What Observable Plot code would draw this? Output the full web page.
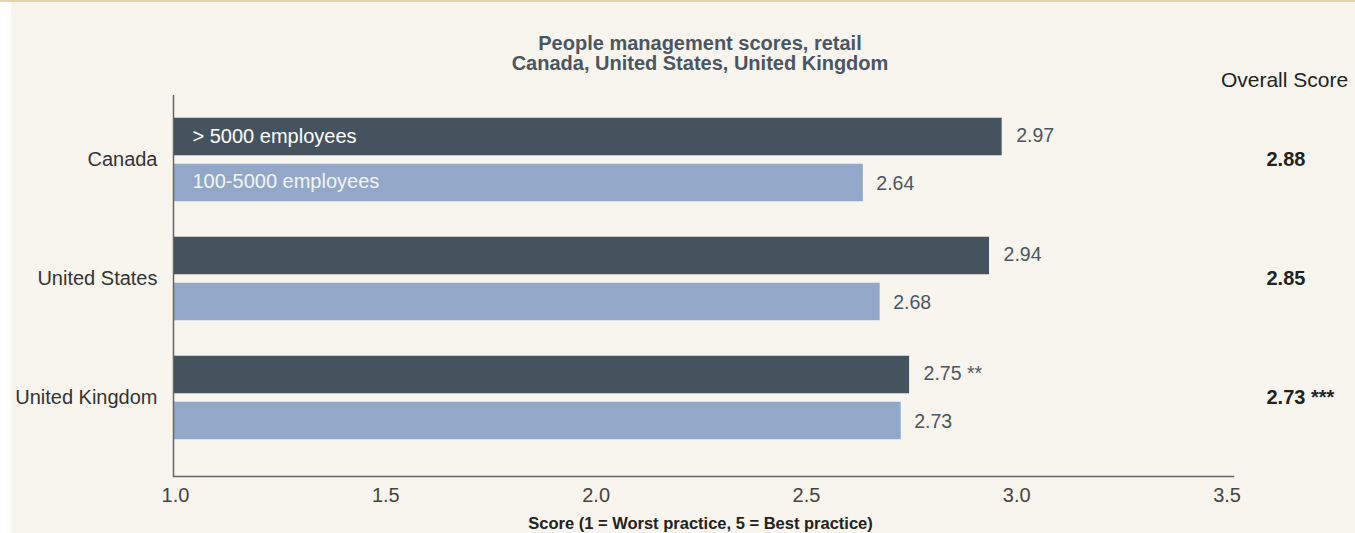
<!DOCTYPE html>
<html>
<head>
<meta charset="utf-8">
<script src="https://cdn.jsdelivr.net/npm/d3@7"></script>
<script src="https://cdn.jsdelivr.net/npm/@observablehq/plot@0.6"></script>
<style>
  html, body { margin: 0; padding: 0; background: #ffffff; }
  #panel { position: absolute; left: 11px; top: 0; width: 1344px; height: 533px; background: #f8f5ee; overflow: hidden; }
  #topline { position: absolute; left: 0; top: 0; width: 1355px; height: 2px; background: #e7d6a9; }
  #title { position: absolute; left: 0; top: 33px; width: 1378px; text-align: center;
           font-family: "Liberation Sans", Arial, sans-serif; font-weight: bold; font-size: 20px;
           line-height: 20px; color: #4a5662; }
  #chart { position: absolute; left: 0; top: 0; }
</style>
</head>
<body>
<div id="panel">
  <div id="chart"></div>
  <div id="title">People management scores, retail<br>Canada, United States, United Kingdom</div>
</div>
<div id="topline"></div>
<script>
// ---- data ----
const countries = ["Canada", "United States", "United Kingdom"];
const largeFirms = [2.97, 2.94, 2.75];          // > 5000 employees
const largeNotes = ["", "", " **"];
const midFirms = [2.64, 2.68, 2.73];            // 100-5000 employees
const midNotes = ["", "", ""];
const overallScores = [2.88, 2.85, 2.73];
const overallNotes = ["", "", " ***"];
const seriesNames = ["> 5000 employees", "100-5000 employees"];
const xTicks = [1.0, 1.5, 2.0, 2.5, 3.0, 3.5];
const baseline = 1.0;
const overallHeader = "Overall Score";
const xLabel = "Score (1 = Worst practice, 5 = Best practice)";

const darkColor = "#45535e";
const lightColor = "#93a8c9";
const valueColor = "#4b5661";
const font = "'Liberation Sans', Arial, sans-serif";

const chart = Plot.plot({
  width: 1344,
  height: 533,
  marginLeft: 162,
  marginRight: 122,
  marginTop: 95,
  marginBottom: 57,
  style: { background: "transparent", fontFamily: font, fontSize: "20px", color: "#333" },
  x: { domain: [1, 3.52] },
  y: { type: "band", domain: countries, paddingInner: 0, paddingOuter: 0.094, align: 0.222 },
  marks: [
    Plot.barX(countries, { y: d => d, x1: baseline, x2: (d, i) => largeFirms[i], fill: darkColor, insetTop: 17.75, insetBottom: 63.75 }),
    Plot.barX(countries, { y: d => d, x1: baseline, x2: (d, i) => midFirms[i], fill: lightColor, insetTop: 63.75, insetBottom: 17.75 }),
    Plot.ruleX([baseline], { stroke: "#666", strokeWidth: 1.5 }),
    Plot.frame({ anchor: "bottom", stroke: "#666", strokeWidth: 1.5 }),
    Plot.axisX(xTicks, { tickSize: 0, tickPadding: 11, dx: 2, tickFormat: d => d.toFixed(1), fontSize: 20, fill: "#444", label: null }),
    Plot.axisY({ tickSize: 0, tickPadding: 16, fontSize: 20, fill: "#333", label: null }),
    // value labels
    Plot.text(countries, { y: d => d, x: (d, i) => largeFirms[i], text: (d, i) => largeFirms[i].toFixed(2) + largeNotes[i],
      dx: 14, dy: -24, textAnchor: "start", fill: valueColor, fontSize: 19.5 }),
    Plot.text(countries, { y: d => d, x: (d, i) => midFirms[i], text: (d, i) => midFirms[i].toFixed(2) + midNotes[i],
      dx: 13, dy: 24, textAnchor: "start", fill: valueColor, fontSize: 19.5 }),
    // series labels inside Canada bars
    Plot.text([seriesNames[0]], { y: () => countries[0], x: baseline, text: d => d, dx: 19, dy: -23,
      textAnchor: "start", fill: "#ffffff", fontSize: 20 }),
    Plot.text([seriesNames[1]], { y: () => countries[0], x: baseline, text: d => d, dx: 19, dy: 22,
      textAnchor: "start", fill: "#f4f4f4", fontSize: 20 }),
    // overall scores
    Plot.text(countries, { y: d => d, frameAnchor: "right", text: (d, i) => overallScores[i].toFixed(2) + overallNotes[i],
      dx: 33, textAnchor: "start", fill: "#222", fontWeight: "bold", fontSize: 20 }),
    Plot.text([overallHeader], { frameAnchor: "top-right", text: d => d, dx: 51, dy: -15,
      textAnchor: "middle", lineAnchor: "middle", fill: "#222", fontSize: 21 }),
    Plot.text([xLabel], { frameAnchor: "bottom", text: d => d, dx: -3, dy: 47, lineAnchor: "middle",
      fill: "#222", fontWeight: "bold", fontSize: 16.5 })
  ]
});
document.getElementById("chart").appendChild(chart);
</script>
</body>
</html>
